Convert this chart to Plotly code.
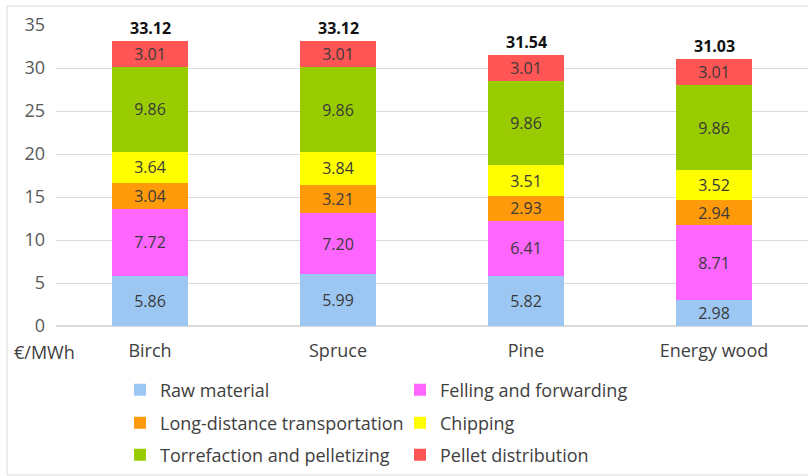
import plotly.graph_objects as go

# Pellet production cost breakdown by feedstock (€/MWh)
categories = ["Birch", "Spruce", "Pine", "Energy wood"]

raw_material = [5.86, 5.99, 5.82, 2.98]
felling_forwarding = [7.72, 7.20, 6.41, 8.71]
long_distance = [3.04, 3.21, 2.93, 2.94]
chipping = [3.64, 3.84, 3.51, 3.52]
torrefaction = [9.86, 9.86, 9.86, 9.86]
pellet_distribution = [3.01, 3.01, 3.01, 3.01]

totals = [33.12, 33.12, 31.54, 31.03]

y_ticks = [0, 5, 10, 15, 20, 25, 30, 35]

series = [
    ("Raw material", raw_material, "#9cc7f2", "legend"),
    ("Felling and forwarding", felling_forwarding, "#ff66ff", "legend"),
    ("Long-distance transportation", long_distance, "#ff9a0a", "legend2"),
    ("Chipping", chipping, "#ffff00", "legend2"),
    ("Torrefaction and pelletizing", torrefaction, "#99cc00", "legend3"),
    ("Pellet distribution", pellet_distribution, "#ff5555", "legend3"),
]

FONT = "Open Sans, Calibri, sans-serif"
W, H = 808, 476
ML, MT, MB = 56, 25, 150
PW, PH = W - ML, H - MT - MB


def px_x(px):
    return (px - ML) / PW


def px_y(py):
    return (H - MB - py) / PH


fig = go.Figure()
for name, vals, color, leg in series:
    fig.add_trace(go.Bar(
        name=name, x=categories, y=vals,
        marker=dict(color=color, line=dict(width=0)),
        text=[f"{v:.2f}" for v in vals],
        textposition="inside", insidetextanchor="middle",
        textangle=0,
        textfont=dict(family=FONT, size=16, color="#3a3a3a"),
        legend=leg,
    ))

# Totals above each stack, positioned at the stacked sum
stack_tops = [sum(s[1][i] for s in series) for i in range(len(categories))]
for cat, top, tot in zip(categories, stack_tops, totals):
    fig.add_annotation(
        x=cat, y=top, text=f"<b>{tot:.2f}</b>", showarrow=False,
        yanchor="bottom", yshift=0,
        font=dict(family=FONT, size=16, color="#111111"),
    )

# Unit label to the left of the category labels
fig.add_annotation(
    xref="paper", yref="paper", x=px_x(12), y=px_y(352),
    xanchor="left", yanchor="middle", text="€/MWh", showarrow=False,
    font=dict(family=FONT, size=18, color="#404040"),
)

# Chart-area border
fig.add_shape(
    type="rect", xref="paper", yref="paper",
    x0=px_x(7), x1=px_x(812), y0=px_y(475), y1=px_y(6),
    line=dict(color="#d9d9d9", width=1), fillcolor="rgba(0,0,0,0)", layer="below",
)

legend_common = dict(
    orientation="h", xref="container", yref="container",
    xanchor="left", yanchor="middle",
    font=dict(family=FONT, size=18, color="#404040"),
    entrywidth=235, entrywidthmode="pixels",
    bgcolor="rgba(0,0,0,0)", borderwidth=0, itemwidth=30,
    traceorder="normal",
)
leg_x = 120 / W
fig.update_layout(
    width=W, height=H,
    margin=dict(l=ML, r=0, t=MT, b=MB),
    paper_bgcolor="white", plot_bgcolor="white",
    barmode="stack", bargap=0.6,
    uniformtext=dict(minsize=16, mode="show"),
    showlegend=True,
    legend=dict(legend_common, x=leg_x, y=1 - 390 / H),
    legend2=dict(legend_common, x=leg_x, y=1 - 423 / H),
    legend3=dict(legend_common, x=leg_x, y=1 - 455 / H),
    xaxis=dict(
        showgrid=False, showline=False, ticks="",
        tickfont=dict(family=FONT, size=18, color="#404040"),
        ticklabelstandoff=12,
    ),
    yaxis=dict(
        range=[0, 35], tickvals=y_ticks, showgrid=True, gridcolor="#d9d9d9",
        gridwidth=1, zeroline=True, zerolinecolor="#d9d9d9", showline=False,
        tickfont=dict(family=FONT, size=18, color="#595959"),
        ticklabelstandoff=10,
    ),
    font=dict(family=FONT),
)

fig.write_html("out.html")
